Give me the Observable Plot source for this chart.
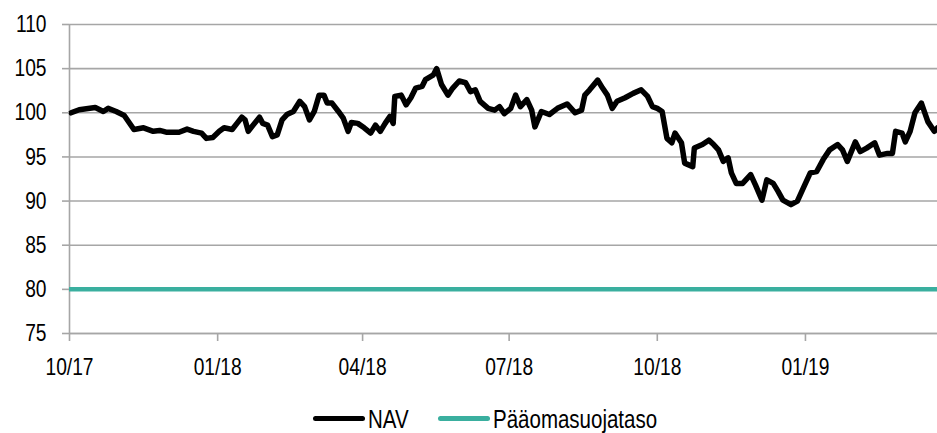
<!DOCTYPE html>
<html>
<head>
<meta charset="utf-8">
<script src="https://cdn.jsdelivr.net/npm/d3@7"></script>
<script src="https://cdn.jsdelivr.net/npm/@observablehq/plot@0.6"></script>
<style>
  html, body { margin: 0; padding: 0; background: #fff; overflow: hidden; }
  body { width: 937px; height: 433px; font-family: "Liberation Sans", Arial, sans-serif; }
  #legend { position: relative; height: 53px; font-size: 25px; line-height: 25px; color: #000; white-space: nowrap; }
  .item { position: absolute; top: 27px; height: 25px; display: flex; align-items: center; }
  .sw { width: 52px; height: 5px; border-radius: 3px; margin-right: 3px; flex: none; position: relative; top: -1px; }
  .lbl { display: inline-block; transform: scaleX(0.82); transform-origin: left center; }
</style>
</head>
<body>
<div id="chart"></div>
<div id="legend"></div>
<script>
// ---- data ----
const navDates = [
  "2017-10-02","2017-10-07","2017-10-17","2017-10-22","2017-10-25","2017-10-30","2017-11-04","2017-11-07","2017-11-10","2017-11-16",
  "2017-11-22","2017-11-26","2017-11-30","2017-12-08","2017-12-13","2017-12-17","2017-12-22","2017-12-25","2017-12-29","2018-01-02",
  "2018-01-05","2018-01-10","2018-01-13","2018-01-16","2018-01-18","2018-01-20","2018-01-23","2018-01-27","2018-01-29","2018-02-01",
  "2018-02-04","2018-02-07","2018-02-10","2018-02-13","2018-02-17","2018-02-21","2018-02-24","2018-02-27","2018-03-02","2018-03-05",
  "2018-03-08","2018-03-10","2018-03-13","2018-03-17","2018-03-20","2018-03-23","2018-03-25","2018-03-29","2018-04-02","2018-04-06",
  "2018-04-09","2018-04-12","2018-04-15","2018-04-18","2018-04-20","2018-04-21","2018-04-25","2018-04-28","2018-05-01","2018-05-04",
  "2018-05-08","2018-05-10","2018-05-15","2018-05-17","2018-05-20","2018-05-24","2018-05-27","2018-05-31","2018-06-04","2018-06-07",
  "2018-06-10","2018-06-13","2018-06-18","2018-06-22","2018-06-25","2018-06-28","2018-07-02","2018-07-05","2018-07-08","2018-07-12",
  "2018-07-15","2018-07-17","2018-07-21","2018-07-26","2018-07-31","2018-08-06","2018-08-11","2018-08-15","2018-08-17","2018-08-20",
  "2018-08-25","2018-08-28","2018-08-31","2018-09-03","2018-09-06","2018-09-11","2018-09-16","2018-09-21","2018-09-25","2018-09-28",
  "2018-10-01","2018-10-04","2018-10-07","2018-10-10","2018-10-12","2018-10-16","2018-10-18","2018-10-23","2018-10-24","2018-10-29",
  "2018-11-02","2018-11-05","2018-11-08","2018-11-11","2018-11-14","2018-11-16","2018-11-19","2018-11-23","2018-11-28","2018-12-01",
  "2018-12-05","2018-12-08","2018-12-12","2018-12-15","2018-12-18","2018-12-23","2018-12-27","2018-12-31","2019-01-04","2019-01-08",
  "2019-01-12","2019-01-16","2019-01-21","2019-01-24","2019-01-27","2019-02-01","2019-02-04","2019-02-08","2019-02-13","2019-02-16",
  "2019-02-21","2019-02-24","2019-02-26","2019-03-02","2019-03-04","2019-03-07","2019-03-10","2019-03-14","2019-03-18","2019-03-22",
  "2019-03-24"
];
const navValues = [
  100.0,100.35,100.6,100.15,100.5,100.15,99.7,98.9,98.1,98.3,
  97.9,98.0,97.8,97.8,98.15,97.9,97.7,97.1,97.2,97.9,
  98.3,98.1,98.8,99.5,99.2,97.9,98.6,99.5,98.8,98.6,
  97.3,97.5,99.2,99.8,100.15,101.3,100.7,99.2,100.15,102.0,
  102.0,101.1,101.1,100.15,99.4,97.9,98.9,98.8,98.3,97.7,
  98.6,97.9,98.8,99.6,98.8,101.85,102.0,100.9,101.7,102.8,
  103.0,103.75,104.3,105.0,103.2,102.0,102.8,103.6,103.4,102.4,
  102.6,101.3,100.5,100.3,100.7,99.9,100.5,102.0,100.7,101.5,
  100.3,98.4,100.15,99.8,100.5,101.0,100.0,100.3,102.0,102.6,
  103.7,102.8,102.0,100.5,101.3,101.7,102.2,102.6,101.85,100.7,
  100.5,100.15,97.1,96.6,97.7,96.6,94.3,93.9,96.0,96.4,
  96.9,96.4,95.8,94.5,94.9,93.2,92.0,92.0,93.0,91.8,
  90.1,92.4,92.0,91.1,90.1,89.6,90.0,91.6,93.2,93.35,
  94.7,95.8,96.4,95.8,94.5,96.7,95.6,96.0,96.6,95.2,
  95.4,95.4,97.9,97.7,96.7,97.9,100.0,101.1,99.0,97.9,
  98.3
];
const protectionLevel = 80;
const seriesNames = ["NAV", "Pääomasuojataso"];
const seriesColors = ["#000000", "#3aaf9f"];
const xTickDates = ["2017-10-01","2018-01-01","2018-04-01","2018-07-01","2018-10-01","2019-01-01"];
const xDomain = ["2017-10-01","2019-03-24"];
const yTicks = [75, 80, 85, 90, 95, 100, 105, 110];

// ---- build ----
const nav = navDates.map((d, i) => ({date: new Date(d + "T00:00:00Z"), value: navValues[i]}));
const xt = xTickDates.map(d => new Date(d + "T00:00:00Z"));
const xd = xDomain.map(d => new Date(d + "T00:00:00Z"));
const font = '"Liberation Sans", Arial, sans-serif';
const gridGray = "#a6a6a6";

const chart = Plot.plot({
  width: 937,
  height: 380,
  marginLeft: 69,
  marginRight: 0,
  marginTop: 24,
  marginBottom: 47,
  style: {fontFamily: font, fontSize: "24px", color: "#000", background: "#fff", overflow: "visible"},
  x: {type: "utc", domain: xd},
  y: {domain: [75, 110]},
  marks: [
    Plot.gridY(yTicks, {stroke: gridGray, strokeOpacity: 1, strokeWidth: 1.6}),
    Plot.ruleX([xd[0]], {y1: 75, y2: 110, stroke: gridGray, strokeWidth: 1.6}),
    Plot.ruleY([75], {stroke: gridGray, strokeWidth: 1.6}),
    Plot.ruleY([protectionLevel], {stroke: seriesColors[1], strokeWidth: 4.5}),
    Plot.line(nav, {x: "date", y: "value", stroke: seriesColors[0], strokeWidth: 5.5, strokeLinejoin: "round", strokeLinecap: "round"}),
    Plot.axisY(yTicks, {tickSize: 7, tickPadding: 16, stroke: gridGray, strokeWidth: 1.6, fill: "#000", fontSize: 24, label: null}),
    Plot.axisX(xt, {tickSize: 8, tickPadding: 16, stroke: gridGray, strokeWidth: 1.6, fill: "#000", fontSize: 24, tickFormat: d3.utcFormat("%m/%y"), label: null})
  ]
});
// condense the tick labels horizontally (narrow typeface look)
chart.querySelectorAll("text").forEach(t => {
  const tr = t.getAttribute("transform");
  if (tr) {
    t.setAttribute("transform", tr + " scale(0.8,1)");
  } else {
    const x = +(t.getAttribute("x") || 0), y = +(t.getAttribute("y") || 0);
    t.setAttribute("x", 0); t.setAttribute("y", 0);
    t.setAttribute("transform", `translate(${x},${y}) scale(0.8,1)`);
  }
});
document.getElementById("chart").appendChild(chart);

const legend = document.getElementById("legend");
const itemLeft = [313, 438];
seriesNames.forEach((name, i) => {
  const item = document.createElement("div");
  item.className = "item";
  item.style.left = itemLeft[i] + "px";
  const sw = document.createElement("div");
  sw.className = "sw";
  sw.style.background = seriesColors[i];
  const t = document.createElement("span");
  t.className = "lbl";
  t.textContent = name;
  item.appendChild(sw);
  item.appendChild(t);
  legend.appendChild(item);
});
</script>
</body>
</html>
